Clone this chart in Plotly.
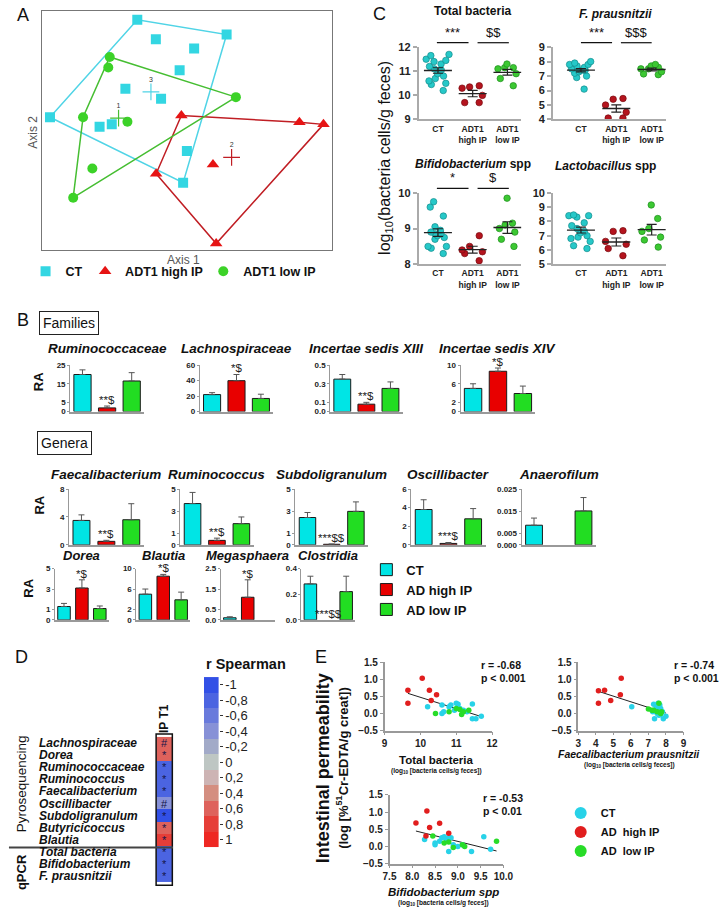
import numpy as np
import plotly.graph_objects as go

W, H = 725, 914
FONT = "Liberation Sans, Arial, sans-serif"
NARROW = "Liberation Sans Narrow, Liberation Sans, Arial, sans-serif"

# ====================== DATA ======================
# --- A: PCoA (arbitrary axis units 0-100) ---
pcoa_groups = ["CT", "ADT1 high IP", "ADT1 low IP"]
pcoa_ct_x = [32.8, 63.6, 39.2, 52.4, 47.4, 28.7, 41.0, 2.7, 24.0, 19.8, 49.9, 48.6]
pcoa_ct_y = [96.3, 90.1, 88.1, 84.3, 75.2, 67.4, 63.2, 55.5, 52.5, 51.5, 41.4, 28.1]
pcoa_high_x = [48.0, 88.7, 97.0, 58.9, 39.3, 60.0]
pcoa_high_y = [56.2, 53.4, 52.5, 35.7, 31.8, 2.6]
pcoa_low_x = [23.3, 22.8, 66.8, 14.1, 29.4, 17.3, 10.7]
pcoa_low_y = [80.7, 76.3, 63.9, 55.5, 53.6, 34.0, 21.8]
pcoa_centroid_ids = ["3", "2", "1"]

# --- B: relative abundance bars ---
bar_groups = ["CT", "AD high IP", "AD low IP"]
fam_names = ["Ruminococcaceae", "Lachnospiraceae", "Incertae sedis XIII", "Incertae sedis XIV"]
fam_means = [[20, 2, 16.5], [22, 40, 17], [0.35, 0.08, 0.25], [5.0, 8.7, 3.9]]
fam_sem = [[2.5, 1.0, 4.5], [2.5, 8.0, 5.5], [0.05, 0.02, 0.07], [1.0, 0.7, 1.6]]
fam_sig = ["**$", "*$", "**$", "*$"]
fam_ticks = [[0, 5, 15, 25], [0, 20, 40, 60], [0, 0.1, 0.3, 0.5], [0, 2, 6, 10]]
fam_ticklabels = [["0", "5", "15", "25"], ["0", "20", "40", "60"],
                  ["0.0", "0.1", "0.3", "0.5"], ["0", "2", "6", "10"]]

gen1_names = ["Faecalibacterium", "Ruminococcus", "Subdoligranulum", "Oscillibacter", "Anaerofilum"]
gen1_means = [[3.5, 0.5, 3.6], [3.7, 0.4, 1.9], [2.45, 0.05, 3.0], [3.8, 0.15, 2.8], [0.0088, None, 0.0152]]
gen1_sem = [[0.8, 0.15, 2.3], [1.0, 0.2, 0.6], [0.45, 0.02, 0.85], [1.05, 0.1, 1.1], [0.0032, None, 0.006]]
gen1_sig = ["**$", "**$", "***$$", "***$", None]
gen1_ticks = [[0, 4, 8], [0, 1, 3, 5], [0, 1, 3, 5], [0, 2, 4, 6], [0, 0.005, 0.015, 0.025]]
gen1_ticklabels = [["0", "4", "8"], ["0", "1", "3", "5"], ["0", "1", "3", "5"],
                   ["0", "2", "4", "6"], ["0.000", "0.005", "0.015", "0.025"]]

gen2_names = ["Dorea", "Blautia", "Megasphaera", "Clostridia"]
gen2_means = [[1.3, 3.1, 1.1], [5.0, 8.5, 3.9], [0.1, 1.1, None], [0.28, None, 0.22]]
gen2_sem = [[0.3, 0.8, 0.25], [1.0, 0.35, 1.5], [0.05, 0.85, None], [0.06, None, 0.12]]
gen2_sig = ["*$", "*$", "*$", "***$$"]
gen2_ticks = [[0, 1, 3, 5], [0, 2, 6, 10], [0, 0.5, 1.5, 2.5], [0, 0.2, 0.4]]
gen2_ticklabels = [["0", "1", "3", "5"], ["0", "2", "6", "10"],
                   ["0.0", "0.5", "1.5", "2.5"], ["0.0", "0.2", "0.4"]]

# --- C: qPCR dot plots ---
c_groups = ["CT", "ADT1<br>high IP", "ADT1<br>low IP"]
tb_ct = [11.7, 11.65, 11.5, 11.45, 11.4, 11.3, 11.2, 11.1, 11.05, 10.9, 10.8, 10.7, 10.6, 10.5, 10.45, 10.2]
tb_high = [10.4, 10.35, 10.3, 10.0, 9.7, 9.7]
tb_low = [11.3, 11.15, 11.15, 11.1, 10.9, 10.7, 10.4]
fp_ct = [8.0, 7.9, 7.8, 7.8, 7.7, 7.6, 7.5, 7.5, 7.4, 7.4, 7.4, 7.3, 7.2, 7.0, 6.9, 6.1]
fp_high = [5.45, 5.4, 5.0, 4.5, 4.1, 4.1]
fp_low = [7.8, 7.7, 7.6, 7.5, 7.5, 7.3, 7.15, 7.1]
bf_ct = [9.75, 9.6, 9.35, 9.05, 8.95, 8.9, 8.85, 8.85, 8.8, 8.75, 8.7, 8.5, 8.5, 8.45, 8.3]
bf_high = [8.8, 8.5, 8.4, 8.35, 8.3, 8.1]
bf_low = [9.85, 9.15, 9.1, 9.0, 8.9, 8.7, 8.5]
lb_ct = [8.45, 8.4, 8.4, 8.3, 7.9, 7.7, 7.5, 7.3, 7.2, 7.0, 6.9, 6.8, 6.6, 6.3, 6.1]
lb_high = [7.35, 7.3, 6.6, 6.4, 6.1, 5.6]
lb_low = [9.15, 8.2, 7.5, 7.3, 6.9, 6.7, 6.2]

# --- D: Spearman heatmap ---
d_rows = ["Lachnospiraceae", "Dorea", "Ruminococcaceae", "Ruminococcus", "Faecalibacterium",
          "Oscillibacter", "Subdoligranulum", "Butyricicoccus", "Blautia",
          "Total bacteria", "Bifidobacterium", "F. prausnitzii"]
d_r = [0.6, 0.6, -0.8, -0.8, -0.8, -0.5, -1.0, 0.6, 0.8, -0.8, -0.8, -0.8]
d_marks = ["#", "*", "*", "*", "*", "#", "*", "*", "*", "*", "*", "*"]
cb_values = [-1, -0.8, -0.6, -0.4, -0.2, 0, 0.2, 0.4, 0.6, 0.8, 1]
cb_labels = ["-1", "-0,8", "-0,6", "-0,4", "-0,2", "0", "0,2", "0,4", "0,6", "0,8", "1"]

# --- E: correlations with intestinal permeability ---
e_groups = ["CT", "AD  high IP", "AD  low IP"]
e1_ct_x = [10.2, 10.6, 10.6, 10.65, 10.8, 10.85, 10.95, 11.0, 11.05, 11.1, 11.2, 11.3, 11.45, 11.45, 11.55, 11.7]
e1_ct_y = [0.2, 0.25, 0.0, 0.05, 0.2, 0.25, 0.1, 0.3, 0.27, 0.15, 0.1, 0.05, 0.28, -0.15, -0.15, -0.08]
e1_high_x = [9.65, 9.65, 10.05, 10.25, 10.3, 10.45]
e1_high_y = [0.68, 0.30, 1.03, 0.68, 0.38, 0.55]
e1_low_x = [10.42, 10.8, 11.0, 11.1, 11.15, 11.2, 11.35]
e1_low_y = [0.0, 0.05, 0.15, 0.12, -0.03, 0.05, 0.1]

e2_ct_x = [6.05, 7.25, 7.3, 7.35, 7.4, 7.45, 7.5, 7.55, 7.6, 7.6, 7.65, 7.7, 7.7, 7.8, 7.85, 8.0]
e2_ct_y = [0.2, 0.05, 0.27, -0.15, 0.1, 0.18, 0.0, 0.3, 0.2, -0.05, 0.25, 0.15, -0.03, 0.05, -0.15, -0.08]
e2_high_x = [4.15, 4.15, 4.5, 4.85, 5.4, 5.45]
e2_high_y = [0.67, 0.30, 0.68, 0.38, 0.55, 1.03]
e2_low_x = [7.0, 7.2, 7.3, 7.5, 7.6, 7.7, 7.75]
e2_low_y = [0.13, 0.1, 0.1, 0.05, 0.3, 0.0, 0.05]

e3_ct_x = [8.27, 8.5, 8.5, 8.6, 8.65, 8.7, 8.75, 8.8, 8.8, 8.85, 8.9, 9.0, 9.1, 9.3, 9.57, 9.72]
e3_ct_y = [0.2, 0.1, 0.05, 0.15, 0.25, 0.28, 0.2, 0.25, -0.15, 0.25, 0.05, 0.0, 0.05, -0.15, 0.28, -0.08]
e3_high_x = [8.08, 8.3, 8.32, 8.38, 8.6, 8.8]
e3_high_y = [0.68, 0.30, 1.03, 0.55, 0.67, 0.38]
e3_low_x = [8.45, 8.7, 8.8, 8.9, 9.1, 9.15, 9.85]
e3_low_y = [0.3, 0.1, 0.13, -0.03, 0.05, 0.0, 0.15]
e_stats = [("r = -0.68", "p < 0.001"), ("r = -0.74", "p < 0.001"), ("r = -0.53", "p < 0.01")]

# ====================== HELPERS ======================
fig = go.Figure()
layout = {}
annots = []
shapes = []
_axn = [0]


def fx(px):
    return px / W


def fy(py):
    return 1 - py / H


def new_axes(x0, x1, yt, yb, xr, yr, xopts=None, yopts=None):
    _axn[0] += 1
    n = _axn[0]
    s = "" if n == 1 else str(n)
    xa = dict(domain=[fx(x0), fx(x1)], anchor="y" + s, showgrid=False, zeroline=False, fixedrange=True)
    ya = dict(domain=[fy(yb), fy(yt)], anchor="x" + s, showgrid=False, zeroline=False, fixedrange=True)
    if xr is not None:
        xa["range"] = xr
    if yr is not None:
        ya["range"] = yr
    if xopts:
        xa.update(xopts)
    if yopts:
        ya.update(yopts)
    layout["xaxis" + s] = xa
    layout["yaxis" + s] = ya
    return "x" + s, "y" + s, (x0, x1, yt, yb, xr, yr)


def to_px(box, xv, yv):
    x0, x1, yt, yb, xr, yr = box
    px = x0 + (xv - xr[0]) / (xr[1] - xr[0]) * (x1 - x0)
    py = yb - (yv - yr[0]) / (yr[1] - yr[0]) * (yb - yt)
    return px, py


def ann(px, py, text, size=12, color="#111", xa="center", ya="middle", angle=0, family=FONT, **kw):
    d = dict(x=fx(px), y=fy(py), xref="paper", yref="paper", text=text, showarrow=False,
             font=dict(size=size, color=color, family=family), xanchor=xa, yanchor=ya, textangle=angle)
    d.update(kw)
    annots.append(d)


def hline(x0, x1, y, color="#111", width=1):
    shapes.append(dict(type="line", xref="paper", yref="paper", x0=fx(x0), x1=fx(x1),
                       y0=fy(y), y1=fy(y), line=dict(color=color, width=width)))


def hull(xs, ys):
    pts = sorted(set(zip(xs, ys)))

    def cross(o, a, b):
        return (a[0] - o[0]) * (b[1] - o[1]) - (a[1] - o[1]) * (b[0] - o[0])
    lower, upper = [], []
    for p in pts:
        while len(lower) >= 2 and cross(lower[-2], lower[-1], p) <= 0:
            lower.pop()
        lower.append(p)
    for p in reversed(pts):
        while len(upper) >= 2 and cross(upper[-2], upper[-1], p) <= 0:
            upper.pop()
        upper.append(p)
    h = lower[:-1] + upper[:-1]
    h.append(h[0])
    return [p[0] for p in h], [p[1] for p in h]


# ====================== PANEL A ======================
xa, ya, boxA = new_axes(36, 333, 5, 247, [0, 100], [0, 100],
                        xopts=dict(showline=True, mirror=True, linecolor="#777", linewidth=1,
                                   showticklabels=False, ticks=""),
                        yopts=dict(showline=True, mirror=True, linecolor="#777", linewidth=1,
                                   showticklabels=False, ticks=""))
a_sets = [(pcoa_ct_x, pcoa_ct_y, "square", 10, "rgb(51,214,226)", "rgb(80,212,230)", "legend"),
          (pcoa_high_x, pcoa_high_y, "triangle-up", 11, "rgb(230,20,20)", "rgb(192,30,36)", "legend4"),
          (pcoa_low_x, pcoa_low_y, "circle", 10, "rgb(60,210,40)", "rgb(70,190,50)", "legend5")]
for gi, (gx, gy, sym, sz, col, hcol, lg) in enumerate(a_sets):
    hx, hy = hull(gx, gy)
    fig.add_trace(go.Scatter(x=hx, y=hy, mode="lines", line=dict(color=hcol, width=1.5),
                             xaxis=xa, yaxis=ya, showlegend=False, hoverinfo="skip"))
for gi, (gx, gy, sym, sz, col, hcol, lg) in enumerate(a_sets):
    fig.add_trace(go.Scatter(x=gx, y=gy, mode="markers", name=pcoa_groups[gi],
                             marker=dict(symbol=sym, size=sz, color=col, line=dict(width=0)),
                             xaxis=xa, yaxis=ya, showlegend=True, legend=lg))
    fig.add_trace(go.Scatter(x=[np.mean(gx)], y=[np.mean(gy)], mode="markers+text",
                             text=[pcoa_centroid_ids[gi]], textposition="top center",
                             textfont=dict(size=7, color="#333", family=FONT),
                             marker=dict(symbol="cross-thin", size=12, line=dict(color=hcol, width=1.2)),
                             xaxis=xa, yaxis=ya, showlegend=False, hoverinfo="skip"))
ann(181, 257, "Axis 1", size=12, color="#555")
ann(27, 128, "Axis 2", size=12, color="#555", angle=-90)
ann(8, 9, "A", size=18, xa="left")

# ====================== PANEL B ======================
bar_colors = ["rgb(0,229,229)", "rgb(232,0,0)", "rgb(34,221,34)"]


def bar_panel(xpx, yt, yb, title, means, sems, ticks, tlabels, sig, width, tsize, ty, tfamily, legend=False):
    xa_, ya_, box = new_axes(xpx[0], xpx[1], yt, yb, [-0.5, 2.5], [0, ticks[-1]],
                             xopts=dict(showline=True, linecolor="#999", linewidth=1.5,
                                        showticklabels=False, ticks=""),
                             yopts=dict(showline=True, linecolor="#999", linewidth=1, ticks="outside",
                                        ticklen=2, tickcolor="#999", tickvals=ticks, ticktext=tlabels,
                                        tickfont=dict(size=8, family=FONT, weight="bold", color="#222")))
    for i in range(3):
        if means[i] is None:
            continue
        fig.add_trace(go.Bar(x=[i], y=[means[i]], width=width, name=bar_groups[i],
                             marker=dict(color=bar_colors[i], line=dict(color="#1a1a1a", width=1)),
                             error_y=dict(type="data", symmetric=False, array=[sems[i]], arrayminus=[0],
                                          color="#555", thickness=1, width=3),
                             xaxis=xa_, yaxis=ya_, showlegend=legend, legend="legend2"))
    cx, _ = to_px(box, 1, 0)
    ann(cx, ty, "<b><i>%s</i></b>" % title, size=tsize, family=tfamily)
    if sig:
        top = 0 if means[1] is None else means[1] + sems[1]
        px, py = to_px(box, 1, top)
        ann(px, py + 2, sig, size=11.5, color="#222", ya="bottom")


fam_x = [(64.7, 140.3), (197.5, 272.5), (331, 405), (464.5, 541)]
for k in range(4):
    bar_panel(fam_x[k], 364, 411, fam_names[k], fam_means[k], fam_sem[k], fam_ticks[k],
              fam_ticklabels[k], fam_sig[k], 0.7, 13.5, 347, FONT, legend=(k == 0))
gen1_x = [(63.5, 140), (177.5, 252.5), (295.3, 369.7), (414, 490), (527, 603)]
for k in range(5):
    bar_panel(gen1_x[k], 489.5, 546, gen1_names[k], gen1_means[k], gen1_sem[k], gen1_ticks[k],
              gen1_ticklabels[k], gen1_sig[k], 0.68, 13.5, 475, FONT)
gen2_x = [(49.2, 104.2), (132.5, 187.5), (219, 274), (301.5, 356.5)]
for k in range(4):
    bar_panel(gen2_x[k], 570, 622, gen2_names[k], gen2_means[k], gen2_sem[k], gen2_ticks[k],
              gen2_ticklabels[k], gen2_sig[k], 0.7, 13, 557, NARROW)

ann(8, 318, "B", size=18, xa="left")
ann(64, 321.5, "Families", size=14, bordercolor="#222", borderwidth=1, borderpad=3)
ann(59, 442.5, "Genera", size=14, bordercolor="#222", borderwidth=1, borderpad=3)
ann(33, 381, "<b>RA</b>", size=13, angle=-90)
ann(33, 506, "<b>RA</b>", size=13, angle=-90)
ann(22, 590, "<b>RA</b>", size=13, angle=-90)

# ====================== PANEL C ======================
c_fill = ["rgb(38,200,200)", "rgb(180,20,30)", "rgb(60,200,50)"]
c_edge = ["rgb(20,140,140)", "rgb(120,10,15)", "rgb(30,140,30)"]


def dot_panel(xpx, ypx, xr, yr, yticks, data3, title, title_xy, sigs):
    xa_, ya_, box = new_axes(xpx[0], xpx[1], ypx[0], ypx[1], xr, yr,
                             xopts=dict(showline=True, linecolor="#aaa", linewidth=2, tickvals=[0, 1, 2],
                                        ticktext=c_groups, ticks="",
                                        tickfont=dict(size=8.5, family=FONT, weight="bold", color="#222")),
                             yopts=dict(showline=True, linecolor="#aaa", linewidth=2, ticks="outside",
                                        ticklen=4, tickwidth=2, tickcolor="#aaa", tickvals=yticks,
                                        tickfont=dict(size=11, family=FONT, weight="bold", color="#222")))
    for i, vals in enumerate(data3):
        fig.add_trace(go.Box(x=[i] * len(vals), y=vals, boxpoints="all", jitter=0.9, pointpos=0, width=0.8,
                             fillcolor="rgba(0,0,0,0)", line=dict(width=0, color="rgba(0,0,0,0)"),
                             marker=dict(color=c_fill[i], size=6.5, line=dict(color=c_edge[i], width=0.7)),
                             xaxis=xa_, yaxis=ya_, showlegend=False, hoverinfo="y"))
        m = float(np.mean(vals))
        s = float(np.std(vals, ddof=1) / np.sqrt(len(vals)))
        fig.add_trace(go.Scatter(x=[i], y=[m], mode="markers",
                                 marker=dict(symbol="line-ew", size=20, line=dict(color="#222", width=1.3)),
                                 error_y=dict(type="data", array=[s], color="#222", thickness=1.2, width=5),
                                 xaxis=xa_, yaxis=ya_, showlegend=False, hoverinfo="skip"))
    ann(title_xy[0], title_xy[1], title, size=12)
    for (a, b, txt) in sigs:
        pa, _ = to_px(box, a, yr[1])
        pb, _ = to_px(box, b, yr[1])
        hline(pa, pb, ypx[0] - 4.5, color="#111", width=1.2)
        ann((pa + pb) / 2, ypx[0] - 5.5, txt, size=13, ya="bottom")


dot_panel((421.7, 526.7), (41.7, 115), [-0.55, 2.4], [9, 12], [9, 10, 11, 12],
          [tb_ct, tb_high, tb_low], "<b>Total bacteria</b>", (476.7, 5),
          [(-0.03, 0.88, "***"), (1.14, 2.04, "$$")])
dot_panel((559.3, 675), (41.7, 115), [-0.785, 2.41], [4, 9], [4, 5, 6, 7, 8, 9],
          [fp_ct, fp_high, fp_low], "<b><i>F. prausnitzii</i></b>", (623, 8),
          [(0.0, 0.88, "***"), (1.13, 2.0, "$$$")])
dot_panel((421.7, 526.7), (189.3, 261.7), [-0.55, 2.4], [8, 10], [8, 9, 10],
          [bf_ct, bf_high, bf_low], "<b><i>Bifidobacterium</i> spp</b>", (476.7, 160),
          [(-0.03, 0.88, "*"), (1.14, 2.04, "$")])
dot_panel((559.3, 675), (189.3, 261.7), [-0.785, 2.41], [5, 10], [5, 6, 7, 8, 9, 10],
          [lb_ct, lb_high, lb_low], "<b><i>Lactobacillus</i> spp</b>", (613, 162), [])
ann(373, 8, "C", size=18, xa="left")
ann(388, 154, "log<sub>10</sub>(bacteria cells/g feces)", size=16, angle=-90)

# ====================== PANEL D ======================
cb_colors = ["rgb(50,80,230)", "rgb(75,100,225)", "rgb(105,122,220)", "rgb(135,145,215)",
             "rgb(162,170,200)", "rgb(190,198,195)", "rgb(205,180,180)", "rgb(212,142,128)",
             "rgb(222,98,92)", "rgb(230,62,56)", "rgb(238,40,35)"]
cscale = []
for k, c in enumerate(cb_colors):
    cscale.append([k / 11, c])
    cscale.append([(k + 1) / 11, c])

xh, yh, boxH = new_axes(152.7, 169.3, 737.7, 891, None, None,
                        xopts=dict(side="top", tickangle=-90, ticks="", showline=False,
                                   tickfont=dict(size=12, family=FONT, weight="bold", color="#111")),
                        yopts=dict(autorange="reversed", showticklabels=False, ticks="", showline=False))
fig.add_trace(go.Heatmap(z=[[v] for v in d_r], x=["IP T1"], y=d_rows, text=[[t] for t in d_marks],
                         texttemplate="%{text}", textfont=dict(size=11, color="#15154a", family=FONT),
                         colorscale=cscale, zmin=-1.1, zmax=1.1, showscale=False,
                         xaxis=xh, yaxis=yh, hoverinfo="skip"))
shapes.append(dict(type="rect", xref=xh + " domain", yref=yh + " domain", x0=0, x1=1, y0=0, y1=1,
                   line=dict(color="#111", width=1.5)))
for name in d_rows:
    annots.append(dict(x=fx(31), y=name, xref="paper", yref=yh, text="<b><i>%s</i></b>" % name,
                       showarrow=False, xanchor="left", yanchor="middle",
                       font=dict(size=12, color="#111", family=FONT)))
hline(2, 170, 852.7, color="#444", width=2)
ann(15, 788, "Pyrosequencing", size=13.5, angle=-90)
ann(15, 878, "<b>qPCR</b>", size=13, angle=-90)

xc, yc, boxCB = new_axes(201.7, 216.7, 680, 852.7, [-0.5, 0.5], [1.1, -1.1],
                         xopts=dict(showticklabels=False, ticks="", showline=False),
                         yopts=dict(side="right", tickvals=cb_values, ticktext=cb_labels, ticks="outside",
                                    ticklen=3, tickcolor="#333", showline=False,
                                    tickfont=dict(size=13, family=FONT, color="#222")))
fig.add_trace(go.Heatmap(z=[[v] for v in cb_values], x=[0], y=cb_values, colorscale=cscale,
                         zmin=-1.1, zmax=1.1, showscale=False, xaxis=xc, yaxis=yc, hoverinfo="skip"))
ann(245, 667, "<b>r Spearman</b>", size=14.5)
ann(6, 660, "D", size=18, xa="left")

# ====================== PANEL E ======================
e_colors = ["rgb(40,210,232)", "rgb(225,30,30)", "rgb(40,220,40)"]


def e_panel(xpx, ypx, xr, xticks, xfmt, groups_xy, stats, stat_xy, title, tsize, title_xy, legend=False):
    xa_, ya_, box = new_axes(xpx[0], xpx[1], ypx[0], ypx[1], xr, [-0.5, 1.5],
                             xopts=dict(showline=True, linecolor="#999", linewidth=1.5, ticks="outside",
                                        ticklen=3, tickcolor="#999", tickvals=xticks, tickformat=xfmt,
                                        tickfont=dict(size=10, family=FONT, weight="bold", color="#222")),
                             yopts=dict(showline=True, linecolor="#999", linewidth=1.5, ticks="outside",
                                        ticklen=3, tickcolor="#999", tickvals=[-0.5, 0, 0.5, 1, 1.5],
                                        tickformat=".1f",
                                        tickfont=dict(size=10, family=FONT, weight="bold", color="#222")))
    allx, ally = [], []
    for gx, gy in groups_xy:
        allx += gx
        ally += gy
    coef = np.polyfit(allx, ally, 1)
    lx = np.array([min(allx), max(allx)])
    fig.add_trace(go.Scatter(x=lx, y=np.polyval(coef, lx), mode="lines", line=dict(color="#222", width=1),
                             xaxis=xa_, yaxis=ya_, showlegend=False, hoverinfo="skip"))
    for gi, (gx, gy) in enumerate(groups_xy):
        fig.add_trace(go.Scatter(x=gx, y=gy, mode="markers", name=e_groups[gi],
                                 marker=dict(color=e_colors[gi], size=5.5),
                                 xaxis=xa_, yaxis=ya_, showlegend=legend, legend="legend3"))
    ann(stat_xy[0], stat_xy[1], "<b>%s</b>" % stats[0], size=10.5, xa="left")
    ann(stat_xy[0], stat_xy[1] + 12.5, "<b>%s</b>" % stats[1], size=10.5, xa="left")
    ann(title_xy[0], title_xy[1], title, size=tsize)
    ann(title_xy[0], title_xy[1] + 11.5, "<b>(log<sub>10</sub> [bacteria cells/g feces])</b>", size=6.5)


e_panel((386.7, 496.7), (665, 734.3), [9, 12], [9, 10, 11, 12], "d",
        [(e1_ct_x, e1_ct_y), (e1_high_x, e1_high_y), (e1_low_x, e1_low_y)], e_stats[0], (483, 668),
        "<b>Total bacteria</b>", 11.5, (440, 764), legend=True)
e_panel((585, 692.7), (665, 734.3), [3, 9], [3, 4, 5, 6, 7, 8, 9], "d",
        [(e2_ct_x, e2_ct_y), (e2_high_x, e2_high_y), (e2_low_x, e2_low_y)], e_stats[1], (681, 668),
        "<b><i>Faecalibacterium prausnitzii</i></b>", 10.5, (637, 757.5))
e_panel((391.7, 508.3), (799.3, 869), [7.5, 10], [7.5, 8, 8.5, 9, 9.5, 10], ".1f",
        [(e3_ct_x, e3_ct_y), (e3_high_x, e3_high_y), (e3_low_x, e3_low_y)], e_stats[2], (485, 803),
        "<b><i>Bifidobacterium spp</i></b>", 11.5, (447, 897.5))
ann(322, 660, "E", size=18)
ann(323, 772, "<b>Intestinal permeability</b>", size=18, angle=-90)
ann(343, 772, "<b>(log [%<sup>51</sup>Cr-EDTA/g creat])</b>", size=13, angle=-90)

# ====================== LAYOUT ======================
legA_font = dict(size=12.5, family=FONT, weight="bold", color="#111")
layout.update(dict(
    width=W, height=H, autosize=False, margin=dict(l=0, r=0, t=0, b=0),
    paper_bgcolor="white", plot_bgcolor="white", barmode="overlay", boxmode="overlay",
    font=dict(family=FONT, color="#111"),
    legend=dict(x=fx(19), y=fy(254), xanchor="left", yanchor="top", font=legA_font,
                bgcolor="rgba(0,0,0,0)", itemwidth=30),
    legend4=dict(x=fx(80), y=fy(254), xanchor="left", yanchor="top", font=legA_font,
                 bgcolor="rgba(0,0,0,0)", itemwidth=30),
    legend5=dict(x=fx(201), y=fy(254), xanchor="left", yanchor="top", font=legA_font,
                 bgcolor="rgba(0,0,0,0)", itemwidth=30),
    legend2=dict(orientation="v", x=fx(368), y=fy(556), xanchor="left", yanchor="top",
                 font=dict(size=13, family=NARROW, weight="bold", color="#111"), bgcolor="rgba(0,0,0,0)",
                 itemwidth=30),
    legend3=dict(orientation="v", x=fx(567), y=fy(803), xanchor="left", yanchor="top",
                 font=dict(size=11, family=FONT, weight="bold", color="#111"), bgcolor="rgba(0,0,0,0)",
                 itemwidth=30, itemsizing="constant"),
    annotations=annots, shapes=shapes,
))
fig.update_layout(**layout)
# remove the default 8px page margin so the figure fills the window exactly; hide the mode bar
fig.write_html("out.html", config={"displayModeBar": False},
               post_script="document.body.style.margin='0px';")
